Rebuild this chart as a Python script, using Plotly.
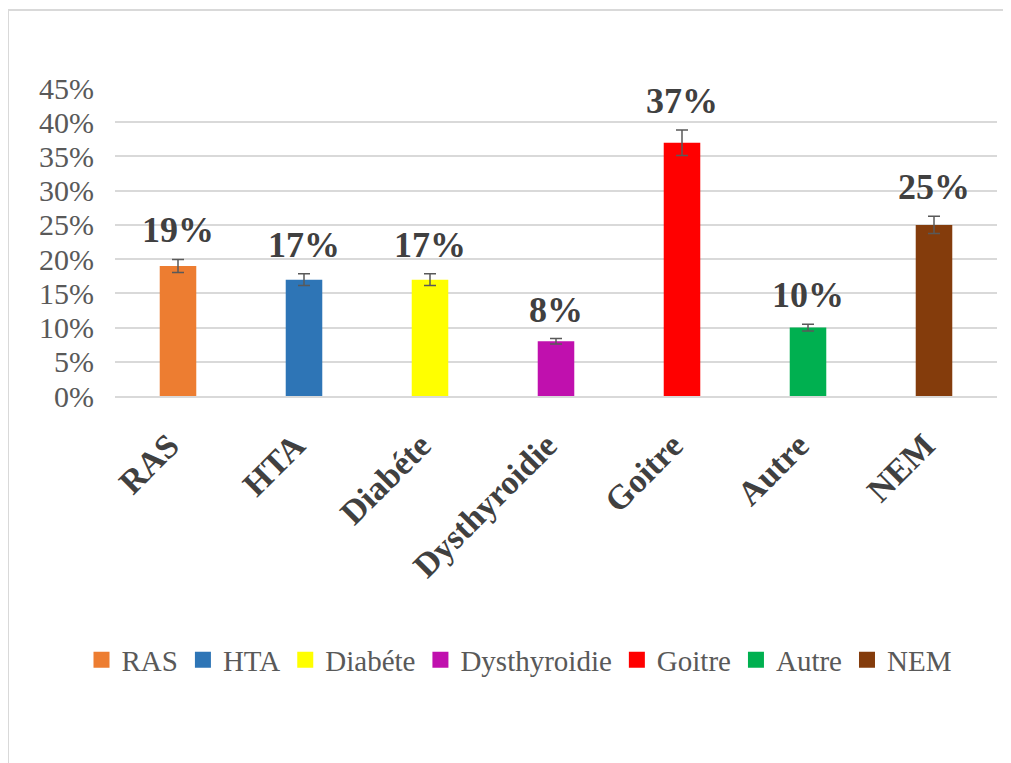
import plotly.graph_objects as go

categories = ["RAS", "HTA", "Diabéte", "Dysthyroidie", "Goitre", "Autre", "NEM"]
values = [0.19, 0.17, 0.17, 0.08, 0.37, 0.10, 0.25]
labels = ["19%", "17%", "17%", "8%", "37%", "10%", "25%"]
colors = ["#ED7D31", "#2E75B6", "#FFFF00", "#C010AE", "#FF0000", "#00B050", "#843C0C"]
y_ticks = [0, 0.05, 0.10, 0.15, 0.20, 0.25, 0.30, 0.35, 0.40, 0.45]
y_tick_labels = ["0%", "5%", "10%", "15%", "20%", "25%", "30%", "35%", "40%", "45%"]

OFF = 8  # page body margin
W, H = 1011 - OFF, 763 - OFF
L, T = 115 - OFF, 88 - OFF
pw, ph = 882, 308
R = W - L - pw
B = H - T - ph

fig = go.Figure()
for c, v, col in zip(categories, values, colors):
    fig.add_trace(go.Bar(
        x=[c], y=[v], name=c, marker=dict(color=col, line=dict(width=0)),
        error_y=dict(type="percent", value=5, color="#595959", thickness=1.5, width=6),
        showlegend=False, legendgroup=c,
    ))
# legend entries with larger square swatches
for c, col in zip(categories, colors):
    fig.add_trace(go.Scatter(
        x=[None], y=[None], mode="markers", name=c, legendgroup=c,
        marker=dict(symbol="square", size=16, color=col), showlegend=True,
    ))

for c, v, lab in zip(categories, values, labels):
    fig.add_annotation(x=c, y=v * 1.05, text="<b>%s</b>" % lab, showarrow=False, yanchor="bottom",
                       yshift=7, font=dict(family="Liberation Serif", size=36, color="#404040"))

def px2x(px):  # page px
    return (px - OFF - L) / pw

def px2y(py):
    return (T + ph - (py - OFF)) / ph

fig.add_shape(type="rect", xref="paper", yref="paper",
              x0=px2x(8), x1=px2x(1040), y0=px2y(800), y1=px2y(10),
              line=dict(color="#D9D9D9", width=2), fillcolor="rgba(0,0,0,0)", layer="below")

fig.update_layout(
    width=W, height=H,
    margin=dict(l=L, r=R, t=T, b=B),
    paper_bgcolor="white", plot_bgcolor="white",
    barmode="overlay", bargap=0.71,
    showlegend=True,
    legend=dict(orientation="h", x=px2x(519), xanchor="center", y=px2y(660), yanchor="middle",
                font=dict(family="Liberation Serif", size=29, color="#595959"),
                itemwidth=30, tracegroupgap=0, traceorder="normal", itemsizing="trace"),
    font=dict(family="Liberation Serif"),
)
fig.update_xaxes(
    type="category", categoryorder="array", categoryarray=categories,
    tickvals=categories, ticktext=["<b>%s</b>" % c for c in categories],
    tickangle=-45, tickfont=dict(family="Liberation Serif", size=34, color="#404040"),
    showline=True, linecolor="#D9D9D9", linewidth=2, showgrid=False,
    ticks="", ticklabelstandoff=14, ticklabelshift=-9,
)
fig.update_yaxes(
    range=[0, 0.45], tickvals=y_ticks, ticktext=y_tick_labels,
    tickfont=dict(family="Liberation Serif", size=30, color="#595959"),
    showgrid=True, gridcolor="#D9D9D9", gridwidth=1.5, zeroline=False,
    showline=False, ticks="", ticklabelstandoff=20,
)

fig.write_html("out.html")
